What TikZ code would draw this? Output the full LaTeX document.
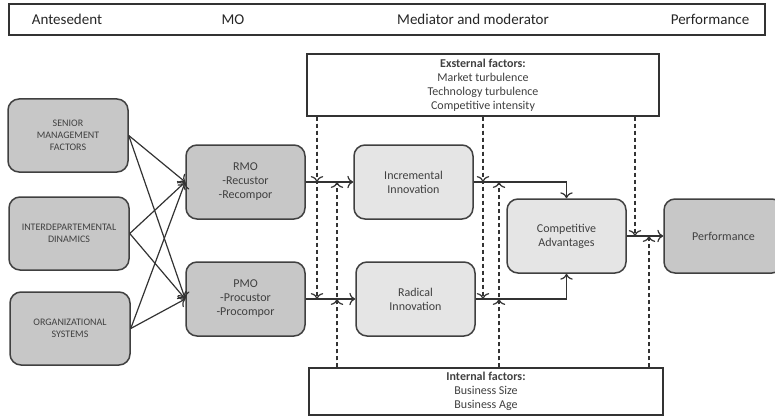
\documentclass[tikz,border=0pt]{standalone}
\usepackage{fontspec}
\setmainfont{Carlito}
\usepackage{tikz}
\usetikzlibrary{arrows.meta}

\begin{document}
\begin{tikzpicture}[x=1pt,y=-1pt,>={To[scale=1.4]},
	darkbox/.style={draw=black!75,fill=black!22,line width=1.5pt,rounded corners=11pt,minimum width=119pt,minimum height=74pt,inner sep=0pt,align=center,text=black!75,font=\fontsize{12}{14}\selectfont},
	lightbox/.style={darkbox,fill=black!10},
	capsbox/.style={darkbox,minimum width=120pt,minimum height=73pt,font=\fontsize{10}{12}\selectfont},
	factbox/.style={draw=black!80,line width=1.3pt,fill=white,inner sep=0pt,align=center,text=black!75,font=\fontsize{12}{14}\selectfont},
	headtext/.style={text=black!85,font=\fontsize{15}{18}\selectfont},
	link/.style={draw=black!80,line width=1.2pt,->},
	modlink/.style={draw=black!80,line width=1.2pt,dash pattern=on 4pt off 3pt,->}]
	\useasboundingbox (0,0) rectangle (775,417);
	% header
	\node[draw=black!80,line width=1.5pt,minimum width=756pt,minimum height=31pt,inner sep=0pt] (head) at (387,19.5) {};
	\node[headtext] (hant) at (67,19.5) {Antesedent};
	\node[headtext] (hmo) at (233,19.5) {MO};
	\node[headtext] (hmed) at (473,19.5) {Mediator and moderator};
	\node[headtext] (hperf) at (710,19.5) {Performance};
	% boxes
	\node[capsbox] (senior) at (68,135.5) {SENIOR\\MANAGEMENT\\FACTORS};
	\node[capsbox] (inter) at (69,233.5) {INTERDEPARTEMENTAL\\DINAMICS};
	\node[capsbox] (orga) at (70,328.5) {ORGANIZATIONAL\\SYSTEMS};
	\node[darkbox] (rmo) at (245.5,182) {RMO\\-Recustor\\-Recompor};
	\node[darkbox] (pmo) at (245.5,299) {PMO\\-Procustor\\-Procompor};
	\node[lightbox] (inc) at (413.5,182) {Incremental\\Innovation};
	\node[lightbox] (rad) at (415.5,299) {Radical\\Innovation};
	\node[lightbox] (ca) at (566.5,236) {Competitive\\Advantages};
	\node[darkbox] (perf) at (723.5,236) {Performance};
	\node[factbox,minimum width=352pt,minimum height=62pt] (ext) at (483,85) {\textbf{Exsternal factors:}\\Market turbulence\\Technology turbulence\\Competitive intensity};
	\node[factbox,minimum width=354pt,minimum height=47pt] (int) at (486,391.5) {\textbf{Internal factors:}\\Business Size\\Business Age};
	% connectors
	\draw[link] (senior.east) -- (rmo.west);
	\draw[link] (senior.east) -- (pmo.west);
	\draw[link] (inter.east) -- (rmo.west);
	\draw[link] (inter.east) -- (pmo.west);
	\draw[link] (orga.east) -- (rmo.west);
	\draw[link] (orga.east) -- (pmo.west);
	\draw[link] (rmo.east) -- (inc.west);
	\draw[link] (pmo.east) -- (rad.west);
	\draw[link] (inc.east) -| (ca.north);
	\draw[link] (rad.east) -| (ca.south);
	\draw[link] (ca.east) -- (perf.west);
	% moderating effects
	\coordinate (ra1) at (317,182);
	\coordinate (pa1) at (317,299);
	\coordinate (ra2) at (337,182);
	\coordinate (pa2) at (337,299);
	\coordinate (ia1) at (483,182);
	\coordinate (rc1) at (483,299);
	\coordinate (ia2) at (499,182);
	\coordinate (rc2) at (499,299);
	\coordinate (cp1) at (635,236);
	\coordinate (cp2) at (649,236);
	\foreach \c in {ra1,pa1,ia1,rc1,cp1}
		\draw[modlink] (ext.south -| \c) -- (\c);
	\foreach \c in {ra2,pa2,ia2,rc2,cp2}
		\draw[modlink] (int.north -| \c) -- (\c);
\end{tikzpicture}
\end{document}
